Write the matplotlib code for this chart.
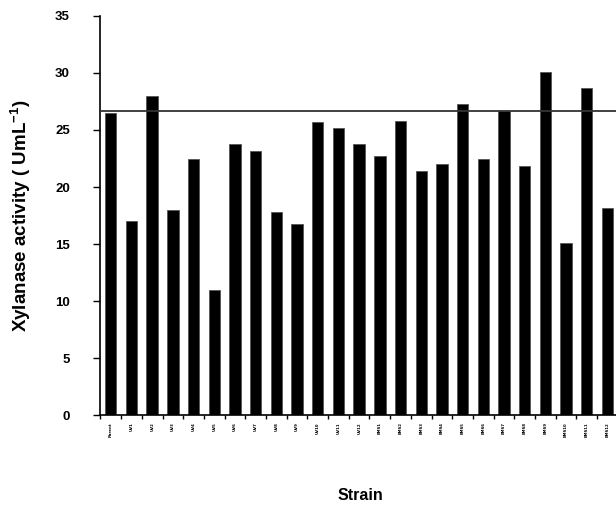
import matplotlib
matplotlib.use("Agg")
import matplotlib.pyplot as plt
import numpy as np

strains = ["Parent"] + [f"UV{i}" for i in range(1, 13)] + [f"EMS{i}" for i in range(1, 13)]
activity = [26.5, 17.0, 28.0, 18.0, 22.5, 11.0, 23.8, 23.2, 17.8, 16.8,
            25.7, 25.2, 23.8, 22.7, 25.8, 21.4, 22.0, 27.3, 22.5, 26.7,
            21.8, 30.1, 15.1, 28.7, 18.2]
reference_level = 26.7
y_ticks = [0, 5, 10, 15, 20, 25, 30, 35]

plt.rcParams["mathtext.fontset"] = "custom"
plt.rcParams["mathtext.rm"] = "Liberation Sans:bold"
plt.rcParams["mathtext.bf"] = "Liberation Sans:bold"

fig = plt.figure(figsize=(6.16, 5.12), dpi=100)
ax = fig.add_axes([0.163, 0.189, 0.84, 0.780])

x = np.arange(len(strains))
ax.bar(x, activity, width=0.55, color="black", edgecolor="#555555", linewidth=0.6, zorder=2)
ax.axhline(reference_level, color="#333333", linewidth=1.3, zorder=3)

ax.set_xlim(-0.5, len(strains) - 0.5)
ax.set_ylim(0, 35)
ax.set_yticks(y_ticks)
ax.set_yticklabels([str(v) for v in y_ticks], fontsize=9.5, fontweight="heavy",
                   family="Liberation Sans")
ax.tick_params(axis="y", direction="out", length=5, width=1, pad=17)

ax.set_xticks(x)
ax.set_xticklabels(strains, rotation=90, fontsize=2.8, fontweight="bold")
ax.set_xticks(np.arange(-0.5, len(strains), 1), minor=True)
ax.tick_params(axis="x", which="major", length=0, pad=5)
ax.tick_params(axis="x", which="minor", direction="out", length=3, width=1)

for side in ("top", "right"):
    ax.spines[side].set_visible(False)
for side in ("left", "bottom"):
    ax.spines[side].set_linewidth(1.2)

ax.set_ylabel("Xylanase activity ( UmL$^{\\mathrm{-1}}$)", fontsize=13.5, fontweight="bold",
              family="Liberation Sans", labelpad=16)
fig.text(0.585, 0.033, "Strain", ha="center", va="center", fontsize=11.5,
         fontweight="bold", family="Liberation Sans")

fig.savefig("out.png", dpi=100)
